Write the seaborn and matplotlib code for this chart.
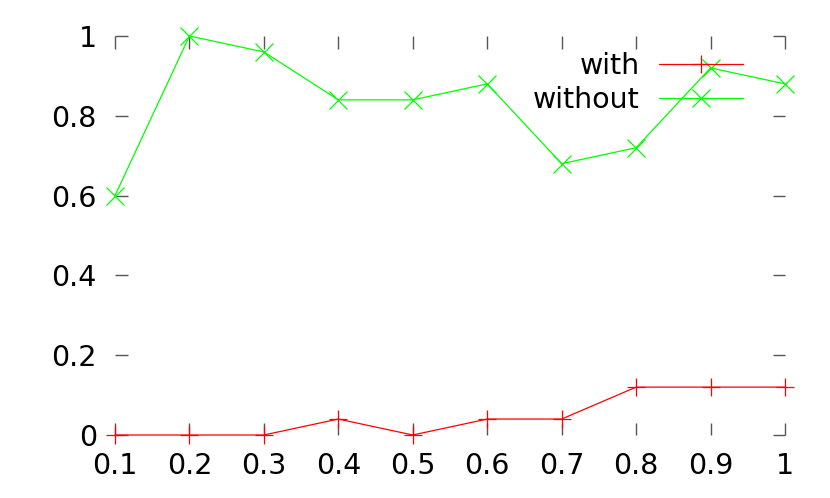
import matplotlib
matplotlib.use("Agg")
import matplotlib.pyplot as plt
import seaborn as sns
import pandas as pd

x_values = [0.1, 0.2, 0.3, 0.4, 0.5, 0.6, 0.7, 0.8, 0.9, 1.0]
with_values = [0.0, 0.0, 0.0, 0.04, 0.0, 0.04, 0.04, 0.12, 0.12, 0.12]
without_values = [0.6, 1.0, 0.96, 0.84, 0.84, 0.88, 0.68, 0.72, 0.92, 0.88]
series_names = ["with", "without"]
x_ticks = [0.1, 0.2, 0.3, 0.4, 0.5, 0.6, 0.7, 0.8, 0.9, 1.0]
x_tick_labels = ["0.1", "0.2", "0.3", "0.4", "0.5", "0.6", "0.7", "0.8", "0.9", "1"]
y_ticks = [0, 0.2, 0.4, 0.6, 0.8, 1.0]
y_tick_labels = ["0", "0.2", "0.4", "0.6", "0.8", "1"]

sns.set_theme(style="white")
plt.rcParams['font.family'] = ['DejaVu Sans']
plt.rcParams['text.color'] = 'black'

df = pd.DataFrame({
    "x": x_values * 2,
    "y": with_values + without_values,
    "series": [series_names[0]] * len(x_values) + [series_names[1]] * len(x_values),
})

fig = plt.figure(figsize=(8.3, 4.98), dpi=100)
ax = fig.add_axes([115 / 830, 1 - 435 / 498, 670 / 830, 399 / 498])

palette = {"with": "#ff0000", "without": "#00ff00"}
sns.lineplot(data=df, x="x", y="y", hue="series", style="series",
             markers={"with": "+", "without": "x"}, dashes=False,
             palette=palette, linewidth=0.9, markersize=13,
             markeredgewidth=0.9, ax=ax, clip_on=False)

for ln in ax.lines:
    ln.set_markeredgecolor(ln.get_color())
    ln.set_markerfacecolor(ln.get_color())

ax.set_xlim(0.1, 1.0)
ax.set_ylim(0, 1.0)
for s in ax.spines.values():
    s.set_visible(False)
ax.set_xticks(x_ticks)
ax.set_xticklabels(x_tick_labels)
ax.set_yticks(y_ticks)
ax.set_yticklabels(y_tick_labels)
ax.tick_params(axis="both", which="major", direction="in", length=9, width=1,
               color="#555555", labelsize=20.5, labelcolor="black",
               top=True, right=True, bottom=True, left=True)
ax.tick_params(axis="y", pad=13)
ax.tick_params(axis="x", pad=12)
ax.set_xlabel("")
ax.set_ylabel("")
ax.grid(False)

handles, labels = ax.get_legend_handles_labels()
leg = ax.legend(handles, labels, loc="upper right",
                bbox_to_anchor=((743 - 115) / 670, (435 - 52) / 399),
                frameon=False, markerfirst=False, fontsize=20.5,
                handlelength=2.95, handletextpad=0.68, labelspacing=0.2,
                borderpad=0, borderaxespad=0)
for h in leg.get_lines():
    h.set_markeredgecolor(h.get_color())
    h.set_markersize(13)
    h.set_markeredgewidth(0.9)
for t in leg.get_texts():
    t.set_color("black")

fig.savefig("out.png", dpi=100)
